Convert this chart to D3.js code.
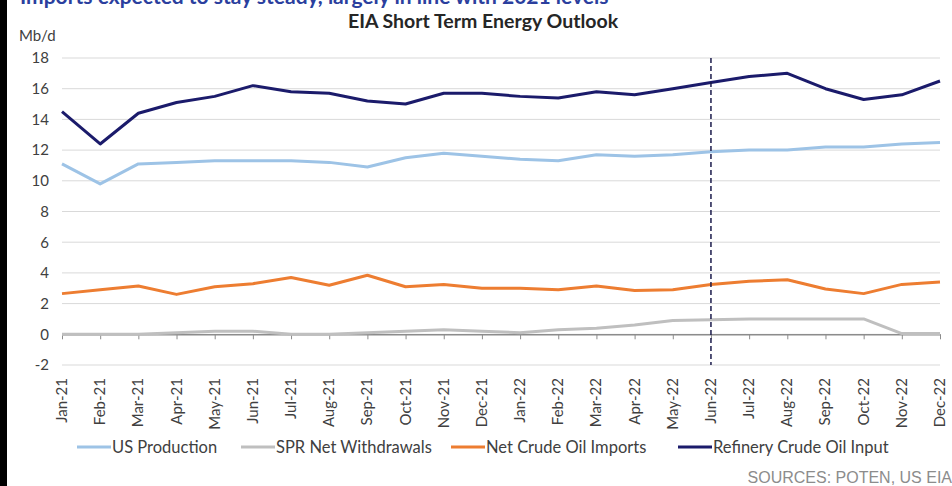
<!DOCTYPE html>
<html>
<head>
<meta charset="utf-8">
<script src="https://cdn.jsdelivr.net/npm/d3@7"></script>
<style>
  body { margin: 0; background: #fff; }
  svg { display: block; font-family: Lato, "Open Sans", sans-serif; }
</style>
</head>
<body>
<div id="chart"></div>
<script>
// chart data
let months = ["Jan-21", "Feb-21", "Mar-21", "Apr-21", "May-21", "Jun-21", "Jul-21", "Aug-21", "Sep-21", "Oct-21", "Nov-21", "Dec-21",
  "Jan-22", "Feb-22", "Mar-22", "Apr-22", "May-22", "Jun-22", "Jul-22", "Aug-22", "Sep-22", "Oct-22", "Nov-22", "Dec-22"];
let usProduction = [11.1, 9.8, 11.1, 11.2, 11.3, 11.3, 11.3, 11.2, 10.9, 11.5, 11.8, 11.6,
  11.4, 11.3, 11.7, 11.6, 11.7, 11.9, 12.0, 12.0, 12.2, 12.2, 12.4, 12.5];
let sprWithdrawals = [0.0, 0.0, 0.0, 0.1, 0.2, 0.2, 0.0, 0.0, 0.1, 0.2, 0.3, 0.2,
  0.1, 0.3, 0.4, 0.6, 0.9, 0.95, 1.0, 1.0, 1.0, 1.0, 0.05, 0.05];
let netImports = [2.65, 2.9, 3.15, 2.6, 3.1, 3.3, 3.7, 3.2, 3.85, 3.1, 3.25, 3.0,
  3.0, 2.9, 3.15, 2.85, 2.9, 3.25, 3.45, 3.55, 2.95, 2.65, 3.25, 3.4];
let refineryInput = [14.5, 12.4, 14.4, 15.1, 15.5, 16.2, 15.8, 15.7, 15.2, 15.0, 15.7, 15.7,
  15.5, 15.4, 15.8, 15.6, 16.0, 16.4, 16.8, 17.0, 16.0, 15.3, 15.6, 16.5];
let yTicks = [-2, 0, 2, 4, 6, 8, 10, 12, 14, 16, 18];
let forecastStart = "Jun-22";

let series = [
  { name: "US Production", values: usProduction, color: "#9dc3e6" },
  { name: "SPR Net Withdrawals", values: sprWithdrawals, color: "#bfbfbf" },
  { name: "Net Crude Oil Imports", values: netImports, color: "#ed7d31" },
  { name: "Refinery Crude Oil Input", values: refineryInput, color: "#1b1b6b" }
];

let width = 952, height = 486;
let svg = d3.select("#chart").append("svg")
  .attr("width", width)
  .attr("height", height);

// black bar at the left edge
svg.append("rect").attr("x", 0).attr("y", 0).attr("width", 7).attr("height", height).attr("fill", "#000");

// headline, cut off by the top edge as in the source image
svg.append("text")
  .attr("x", 20).attr("y", 4)
  .attr("font-size", 21).attr("font-weight", "bold")
  .attr("fill", "#2b3f9e")
  .text("Imports expected to stay steady, largely in line with 2021 levels");

let x = d3.scalePoint().domain(months).range([62, 940]);
let y = d3.scaleLinear().domain([-2, 18]).range([365, 58]);

// gridlines
svg.append("g")
  .selectAll("line")
  .data(yTicks)
  .join("line")
  .attr("x1", 62).attr("x2", 940)
  .attr("y1", d => y(d)).attr("y2", d => y(d))
  .attr("stroke", "#d9d9d9").attr("stroke-width", 1);

// y axis labels
let yAxis = svg.append("g")
  .attr("transform", "translate(50,0)")
  .call(d3.axisLeft(y).tickValues(yTicks).tickSize(0).tickPadding(1).tickFormat(d => String(d)));
yAxis.select(".domain").remove();
yAxis.selectAll("text").attr("font-size", 15).attr("fill", "#404040").attr("font-family", "Lato, sans-serif");

svg.append("text").attr("x", 19).attr("y", 41)
  .attr("font-size", 15).attr("fill", "#404040").text("Mb/d");

// zero line with category ticks
let xAxis = svg.append("g")
  .attr("transform", `translate(0,${y(0)})`)
  .call(d3.axisBottom(x).tickSize(5).tickSizeOuter(0).tickFormat(""));
xAxis.select(".domain").attr("stroke", "#8c8c8c").attr("stroke-width", 1.5);
xAxis.selectAll(".tick line").attr("stroke", "#8c8c8c");

// month labels, rotated
svg.append("g")
  .selectAll("text")
  .data(months)
  .join("text")
  .attr("transform", d => `translate(${x(d) + 5},378) rotate(-90)`)
  .attr("text-anchor", "end")
  .attr("font-size", 15)
  .attr("fill", "#404040")
  .text(d => d);

// lines
let line = d3.line()
  .x((d, i) => x(months[i]))
  .y(d => y(d));

svg.append("g")
  .selectAll("path")
  .data(series)
  .join("path")
  .attr("d", d => line(d.values))
  .attr("fill", "none")
  .attr("stroke", d => d.color)
  .attr("stroke-width", 3)
  .attr("stroke-linejoin", "round");

// forecast divider
svg.append("line")
  .attr("x1", x(forecastStart)).attr("x2", x(forecastStart))
  .attr("y1", 58).attr("y2", 365)
  .attr("stroke", "#1b1b4b").attr("stroke-width", 1.5)
  .attr("stroke-dasharray", "5,3");

// title
svg.append("text")
  .attr("x", 483).attr("y", 28)
  .attr("text-anchor", "middle")
  .attr("font-size", 19.5).attr("font-weight", "bold")
  .attr("fill", "#262626")
  .text("EIA Short Term Energy Outlook");

// legend
let legendX = [77, 241, 451, 678];
let legend = svg.append("g")
  .selectAll("g")
  .data(series)
  .join("g")
  .attr("transform", (d, i) => `translate(${legendX[i]},447)`);
legend.append("line")
  .attr("x1", 0).attr("x2", 34)
  .attr("stroke", d => d.color).attr("stroke-width", 3);
legend.append("text")
  .attr("x", 35).attr("y", 5.5)
  .attr("font-size", 16.5).attr("fill", "#404040")
  .text(d => d.name);

// source note
svg.append("text")
  .attr("x", 952).attr("y", 483)
  .attr("text-anchor", "end")
  .attr("font-family", "'Liberation Sans', Arial, sans-serif")
  .attr("font-size", 16).attr("fill", "#8c8c8c")
  .text("SOURCES: POTEN, US EIA");
</script>
</body>
</html>
